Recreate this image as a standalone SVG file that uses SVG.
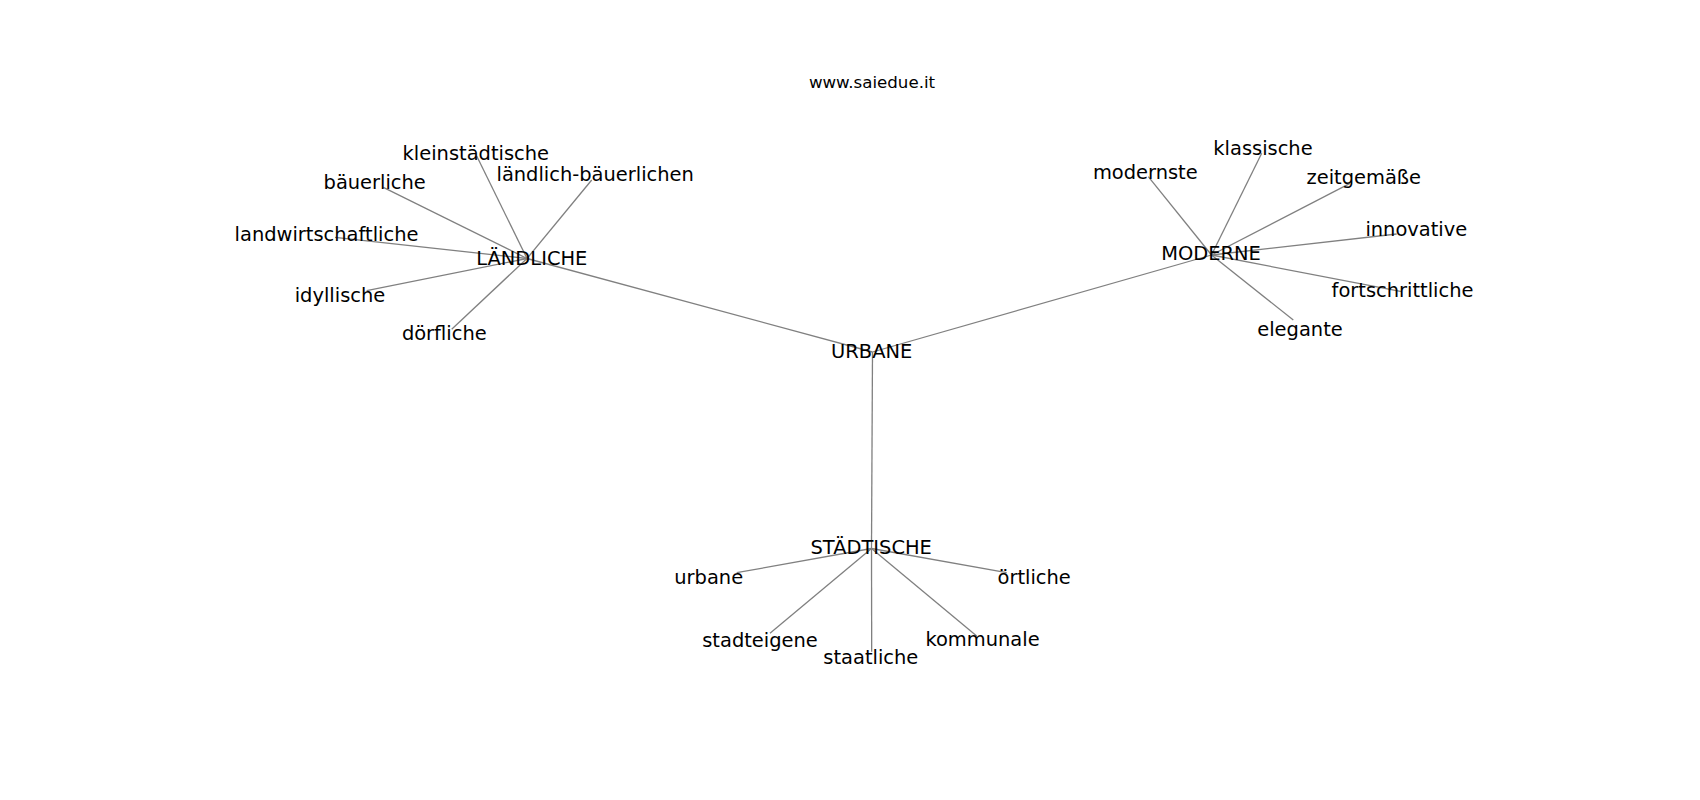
<svg xmlns="http://www.w3.org/2000/svg" width="1700" height="800" viewBox="0 0 1700 800">
<style>
  .bg { fill: #ffffff; }
  .edge { stroke: #808080; stroke-width: 1.3; fill: none; stroke-linecap: butt; }
  .lbl { font-family: "DejaVu Sans", "Liberation Sans", sans-serif; font-size: 19.44px; fill: #000000; text-anchor: middle; }
  .title { font-family: "DejaVu Sans", "Liberation Sans", sans-serif; font-size: 16.67px; fill: #000000; text-anchor: middle; }
</style>
<rect class="bg" x="0" y="0" width="1700" height="800"/>
<text class="title" x="872" y="87.5">www.saiedue.it</text>
<g id="connectors">
  <line class="edge" x1="872.5" y1="352" x2="527" y2="258.5"/>
  <line class="edge" x1="872.5" y1="352" x2="1211.5" y2="255"/>
  <line class="edge" x1="872.5" y1="352" x2="871.5" y2="548.5"/>
  <line class="edge" x1="527" y1="258.5" x2="476.7" y2="156"/>
  <line class="edge" x1="527" y1="258.5" x2="591.7" y2="180"/>
  <line class="edge" x1="527" y1="258.5" x2="383.3" y2="187.3"/>
  <line class="edge" x1="527" y1="258.5" x2="335" y2="237.3"/>
  <line class="edge" x1="527" y1="258.5" x2="366.7" y2="290.7"/>
  <line class="edge" x1="527" y1="258.5" x2="451.7" y2="329.3"/>
  <line class="edge" x1="1211.5" y1="255" x2="1148.3" y2="176.7"/>
  <line class="edge" x1="1211.5" y1="255" x2="1261.7" y2="153.3"/>
  <line class="edge" x1="1211.5" y1="255" x2="1350" y2="183.3"/>
  <line class="edge" x1="1211.5" y1="255" x2="1396.7" y2="234"/>
  <line class="edge" x1="1211.5" y1="255" x2="1401.7" y2="291.7"/>
  <line class="edge" x1="1211.5" y1="255" x2="1293.3" y2="320"/>
  <line class="edge" x1="871.5" y1="548.5" x2="736.7" y2="572.7"/>
  <line class="edge" x1="871.5" y1="548.5" x2="1006.7" y2="572.7"/>
  <line class="edge" x1="871.5" y1="548.5" x2="770" y2="633.3"/>
  <line class="edge" x1="871.5" y1="548.5" x2="976.7" y2="636"/>
  <line class="edge" x1="871.5" y1="548.5" x2="871.7" y2="651.7"/>
</g>
<g id="node-urbane-hub"><text class="lbl" x="871.7" y="357.5">URBANE</text></g>
<g id="node-laendliche"><text class="lbl" x="531.8" y="264.5">LÄNDLICHE</text></g>
<g id="node-moderne"><text class="lbl" x="1211" y="260.3">MODERNE</text></g>
<g id="node-staedtische"><text class="lbl" x="871.2" y="554.3">STÄDTISCHE</text></g>
<g id="node-kleinstaedtische"><text class="lbl" x="475.8" y="159.5">kleinstädtische</text></g>
<g id="node-laendlich-baeuerlichen"><text class="lbl" x="595.2" y="181.2">ländlich-bäuerlichen</text></g>
<g id="node-baeuerliche"><text class="lbl" x="374.7" y="188.8">bäuerliche</text></g>
<g id="node-landwirtschaftliche"><text class="lbl" x="326.5" y="241.3">landwirtschaftliche</text></g>
<g id="node-idyllische"><text class="lbl" x="340" y="302">idyllische</text></g>
<g id="node-doerfliche"><text class="lbl" x="444.3" y="340.3">dörfliche</text></g>
<g id="node-modernste"><text class="lbl" x="1145.3" y="178.6">modernste</text></g>
<g id="node-klassische"><text class="lbl" x="1263" y="155.3">klassische</text></g>
<g id="node-zeitgemaesse"><text class="lbl" x="1363.8" y="184.4">zeitgemäße</text></g>
<g id="node-innovative"><text class="lbl" x="1416.3" y="236.4">innovative</text></g>
<g id="node-fortschrittliche"><text class="lbl" x="1402.5" y="297">fortschrittliche</text></g>
<g id="node-elegante"><text class="lbl" x="1300" y="336">elegante</text></g>
<g id="node-urbane"><text class="lbl" x="708.7" y="583.8">urbane</text></g>
<g id="node-oertliche"><text class="lbl" x="1034.2" y="583.8">örtliche</text></g>
<g id="node-stadteigene"><text class="lbl" x="760" y="646.5">stadteigene</text></g>
<g id="node-kommunale"><text class="lbl" x="982.5" y="645.5">kommunale</text></g>
<g id="node-staatliche"><text class="lbl" x="870.8" y="664.3">staatliche</text></g>
</svg>
